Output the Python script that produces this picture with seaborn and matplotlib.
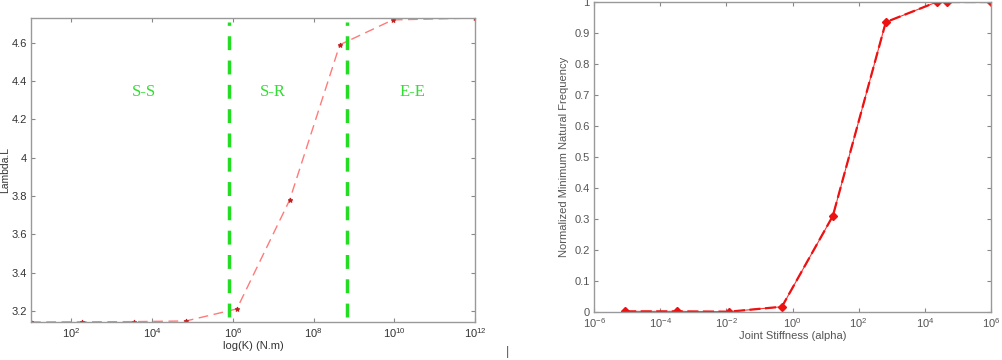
import numpy as np
import pandas as pd
import matplotlib
matplotlib.use("Agg")
import matplotlib.pyplot as plt
import seaborn as sns

# ---- data (left panel) ----
k_log = [1.0, 2.26, 3.55, 4.84, 6.1, 7.41, 8.65, 9.96, 12.0]
lambda_l = [3.1416, 3.1425, 3.1435, 3.147, 3.21, 3.78, 4.59, 4.72, 4.73]
region_bounds_log = [5.9, 8.82]
region_labels = ["S-S", "S-R", "E-E"]
region_label_x_log = [3.8, 7.0, 10.45]

# ---- data (right panel) ----
alpha_log = [-5.06, -3.49, -1.92, -0.32, 1.22, 2.82, 4.36, 4.66, 6.0]
norm_freq = [0.002, 0.002, 0.001, 0.017, 0.31, 0.935, 1.0, 1.0, 1.0]

sns.set_style("ticks")
plt.rcParams['font.family'] = ['Liberation Sans', 'DejaVu Sans']

fig = plt.figure(figsize=(10.02, 3.6), dpi=100)
W, H = 1002, 360
ax1 = fig.add_axes([31 / W, (H - 322) / H, 444 / W, 304 / H])
ax2 = fig.add_axes([594 / W, (H - 312) / H, 397 / W, 310 / H])

df1 = pd.DataFrame({"K": np.power(10.0, k_log), "L": lambda_l})
df2 = pd.DataFrame({"a": np.power(10.0, alpha_log), "f": norm_freq})

# left
sns.lineplot(data=df1, x="K", y="L", ax=ax1, color="#ff7a7a", lw=1.0,
             linestyle=(0, (7, 4)), marker="*", markersize=3.5,
             markerfacecolor="#c02020", markeredgecolor="#c02020")
for b in region_bounds_log:
    ax1.plot([10 ** b, 10 ** b], [3.17, 4.71], color="#22dd22", lw=2.5,
             linestyle=(0, (4, 3)))
for lab, xl in zip(region_labels, region_label_x_log):
    ax1.text(10 ** xl, 4.343, lab, color="#33dd33", fontsize=12,
             family="Liberation Serif", ha="center", va="center")
ax1.set_xscale("log")
ax1.set_xlim(10, 1e12)
ax1.set_ylim(np.pi, 4.7300)
ax1.set_xticks([10.0 ** e for e in range(2, 13, 2)])
ax1.xaxis.set_minor_locator(matplotlib.ticker.NullLocator())
ax1.set_yticks([3.2, 3.4, 3.6, 3.8, 4.0, 4.2, 4.4, 4.6])
ax1.set_yticklabels(["3.2", "3.4", "3.6", "3.8", "4", "4.2", "4.4", "4.6"])
ax1.set_xlabel("log(K) (N.m)", fontsize=8, color="#333333", labelpad=1)
ax1.set_ylabel("Lambda.L", fontsize=7.5, color="#333333")
ax1.yaxis.set_label_coords(-0.046, 0.5)

# right
sns.lineplot(data=df2, x="a", y="f", ax=ax2, color="#ff3030", lw=0.8)
sns.lineplot(data=df2, x="a", y="f", ax=ax2, color="#ee1111", lw=1.6,
             linestyle=(0, (5, 2)), marker="D", markersize=4.5,
             markeredgewidth=1.0, markerfacecolor="#ee1111",
             markeredgecolor="#ee1111")
ax2.set_xscale("log")
ax2.set_xlim(1e-6, 1e6)
ax2.set_ylim(0, 1)
ax2.set_xticks([10.0 ** e for e in range(-6, 7, 2)])
ax2.xaxis.set_minor_locator(matplotlib.ticker.NullLocator())
ax2.set_yticks(np.round(np.arange(0, 1.01, 0.1), 1))
ax2.set_yticklabels(["0", "0.1", "0.2", "0.3", "0.4", "0.5", "0.6", "0.7",
                     "0.8", "0.9", "1"])
ax2.set_xlabel("Joint Stiffness (alpha)", fontsize=8, color="#555555", labelpad=1)
ax2.set_ylabel("Normalized Minimum Natural Frequency", fontsize=8,
               color="#555555", labelpad=4)

for ax, tc in ((ax1, "#333333"), (ax2, "#555555")):
    for s in ax.spines.values():
        s.set_visible(True)
        s.set_color("#999999")
        s.set_linewidth(1.0)
    ax.tick_params(which="both", direction="in", top=True, right=True,
                   length=3, width=0.8, color="#888888", labelsize=8,
                   labelcolor=tc, pad=3)

fig.text(507 / W, 1 - 352 / H, "|", fontsize=9, color="#555555",
         ha="center", va="center")

fig.savefig("out.png", dpi=100)
